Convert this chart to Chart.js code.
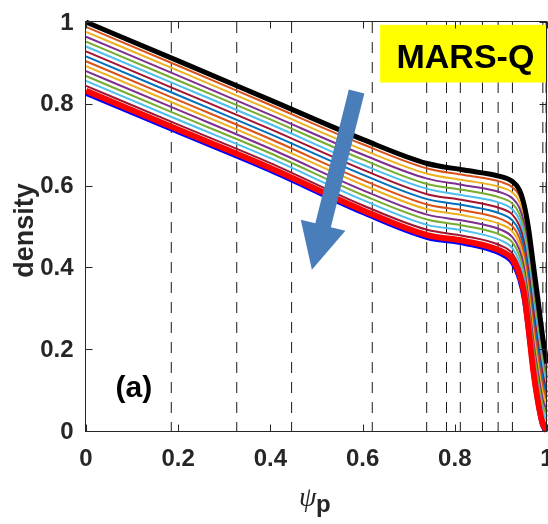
<!DOCTYPE html>
<html>
<head>
<meta charset="utf-8">
<script src="https://cdn.jsdelivr.net/npm/chart.js@4.4.1/dist/chart.umd.min.js"></script>
<style>
  html, body { margin: 0; padding: 0; background: #fff; }
  canvas { display: block; }
</style>
</head>
<body>
<canvas id="density" width="548" height="524"></canvas>
<script>
// ── data ──
const psi = [0, 0.2, 0.4, 0.6, 0.74, 0.82, 0.9, 0.925, 0.94, 0.95, 0.96, 0.97, 0.98, 0.99, 1.0];

const densityTop = [1.000, 0.905, 0.809, 0.713, 0.654, 0.638, 0.622, 0.610, 0.590, 0.555, 0.495, 0.410, 0.325, 0.235, 0.165];
const density01 = [0.988, 0.893, 0.797, 0.701, 0.642, 0.626, 0.609, 0.596, 0.575, 0.540, 0.478, 0.391, 0.307, 0.220, 0.153];
const density02 = [0.976, 0.881, 0.785, 0.688, 0.629, 0.613, 0.596, 0.583, 0.561, 0.524, 0.460, 0.373, 0.289, 0.204, 0.141];
const density03 = [0.964, 0.869, 0.773, 0.676, 0.617, 0.601, 0.583, 0.569, 0.546, 0.509, 0.443, 0.354, 0.271, 0.189, 0.130];
const density04 = [0.952, 0.857, 0.762, 0.664, 0.604, 0.589, 0.570, 0.556, 0.531, 0.494, 0.425, 0.336, 0.254, 0.174, 0.118];
const density05 = [0.940, 0.845, 0.750, 0.651, 0.592, 0.576, 0.557, 0.542, 0.517, 0.478, 0.408, 0.317, 0.236, 0.158, 0.106];
const density06 = [0.928, 0.833, 0.738, 0.639, 0.579, 0.564, 0.544, 0.529, 0.502, 0.463, 0.390, 0.299, 0.218, 0.143, 0.094];
const density07 = [0.916, 0.821, 0.726, 0.627, 0.567, 0.552, 0.531, 0.515, 0.488, 0.448, 0.373, 0.280, 0.200, 0.128, 0.083];
const density08 = [0.904, 0.809, 0.714, 0.614, 0.554, 0.539, 0.518, 0.501, 0.473, 0.432, 0.355, 0.261, 0.182, 0.112, 0.071];
const density09 = [0.892, 0.797, 0.702, 0.602, 0.542, 0.527, 0.505, 0.488, 0.458, 0.417, 0.338, 0.243, 0.164, 0.097, 0.059];
const density10 = [0.880, 0.785, 0.690, 0.589, 0.529, 0.514, 0.492, 0.474, 0.444, 0.401, 0.320, 0.224, 0.146, 0.081, 0.047];
const density11 = [0.868, 0.773, 0.679, 0.577, 0.517, 0.502, 0.479, 0.461, 0.429, 0.386, 0.303, 0.206, 0.129, 0.066, 0.035];
const density12 = [0.856, 0.761, 0.667, 0.565, 0.504, 0.490, 0.466, 0.447, 0.414, 0.371, 0.285, 0.187, 0.111, 0.051, 0.024];
const density13 = [0.844, 0.749, 0.655, 0.552, 0.492, 0.477, 0.453, 0.434, 0.400, 0.355, 0.268, 0.169, 0.093, 0.035, 0.012];
const densityRed  = [0.832, 0.737, 0.643, 0.540, 0.479, 0.465, 0.440, 0.420, 0.385, 0.340, 0.250, 0.150, 0.075, 0.020, 0.000];
const densityBlue = [0.824, 0.730, 0.636, 0.533, 0.472, 0.458, 0.432, 0.410, 0.370, 0.320, 0.235, 0.140, 0.065, 0.012, 0.000];

const midCurves = [density01, density02, density03, density04, density05, density06, density07,
                   density08, density09, density10, density11, density12, density13];
const midColors = ['#D95319', '#EDB120', '#7E2F8E', '#77AC30', '#4DBEEE', '#A2142F', '#0072BD',
                   '#D95319', '#EDB120', '#7E2F8E', '#77AC30', '#4DBEEE', '#A2142F'];

// flux surfaces marked with dashed lines
const surfaceX = [0.185, 0.327, 0.446, 0.621, 0.739, 0.782, 0.812, 0.860, 0.894, 0.925, 0.991, 0.998];

const xTicks = [0, 0.2, 0.4, 0.6, 0.8, 1];
const yTicks = [0, 0.2, 0.4, 0.6, 0.8, 1];

const FONT = "'Liberation Sans', Arial, Helvetica, sans-serif";
const AXIS = '#262626';

const toPts = arr => arr.map((v, i) => ({ x: psi[i], y: v }));
const fmt = v => (v === 0 || v === 1) ? String(v) : v.toFixed(1);

// ── datasets ──
const datasets = [];
surfaceX.forEach(sx => datasets.push({
  data: [{ x: sx, y: 1 }, { x: sx, y: 0 }],
  borderColor: '#1a1a1a', borderWidth: 1, borderDash: [11, 9],
  pointRadius: 0, order: 50
}));
datasets.push({ data: toPts(densityBlue), borderColor: '#0000FF', borderWidth: 4, order: 6 });
datasets.push({ data: toPts(densityRed), borderColor: '#FF0000', borderWidth: 6, order: 5 });
midCurves.forEach((c, i) => datasets.push({
  data: toPts(c), borderColor: midColors[i], borderWidth: 2, order: 20 - i
}));
datasets.push({ data: toPts(densityTop), borderColor: '#000000', borderWidth: 5, order: 1 });
datasets.forEach(d => {
  d.pointRadius = 0; d.fill = false; d.clip = false;
  if (!d.borderDash) d.cubicInterpolationMode = 'monotone';
});

// ── decorations: box, inward ticks, tick labels, titles, annotation ──
const deco = {
  id: 'deco',
  afterDatasetsDraw(chart) {
    const { ctx, chartArea: a, scales: { x, y } } = chart;
    ctx.save();

    // arrow
    const tail = { x: x.getPixelForValue(0.587), y: y.getPixelForValue(0.830) };
    const tip  = { x: x.getPixelForValue(0.490), y: y.getPixelForValue(0.394) };
    const dx = tip.x - tail.x, dy = tip.y - tail.y, L = Math.hypot(dx, dy);
    const ux = dx / L, uy = dy / L, nx = -uy, ny = ux;
    const H = 46, W = 23, S = 8;
    const bx = tip.x - ux * H, by = tip.y - uy * H;
    ctx.fillStyle = '#4A7EBB';
    ctx.beginPath();
    ctx.moveTo(tail.x + nx * S, tail.y + ny * S);
    ctx.lineTo(bx + nx * S, by + ny * S);
    ctx.lineTo(bx + nx * W, by + ny * W);
    ctx.lineTo(tip.x, tip.y);
    ctx.lineTo(bx - nx * W, by - ny * W);
    ctx.lineTo(bx - nx * S, by - ny * S);
    ctx.lineTo(tail.x - nx * S, tail.y - ny * S);
    ctx.closePath();
    ctx.fill();

    // yellow label box
    const bx0 = x.getPixelForValue(0.638), by0 = y.getPixelForValue(0.993);
    const by1 = y.getPixelForValue(0.852);
    ctx.fillStyle = '#FFFF00';
    ctx.fillRect(bx0, by0, chart.width - bx0, by1 - by0);
    ctx.fillStyle = '#000';
    ctx.font = "bold 34px " + FONT;
    ctx.textAlign = 'center'; ctx.textBaseline = 'alphabetic';
    ctx.fillText('MARS-Q', x.getPixelForValue(0.823), y.getPixelForValue(0.887));

    // panel tag
    ctx.font = "bold 30px " + FONT;
    ctx.textBaseline = 'middle';
    ctx.fillText('(a)', x.getPixelForValue(0.104), y.getPixelForValue(0.103));

    // box + ticks
    const L0 = Math.round(a.left) - 0.5, R0 = Math.round(a.right) - 0.5;
    const T0 = Math.round(a.top) - 0.5, B0 = Math.round(a.bottom) + 0.5;
    ctx.strokeStyle = AXIS; ctx.lineWidth = 1; ctx.setLineDash([]);
    ctx.strokeRect(L0, T0, R0 - L0, B0 - T0);
    ctx.beginPath();
    xTicks.forEach(v => {
      const px = Math.round(x.getPixelForValue(v)) + 0.5;
      ctx.moveTo(px, B0); ctx.lineTo(px, B0 - 7);
      ctx.moveTo(px, T0); ctx.lineTo(px, T0 + 7);
    });
    yTicks.forEach(v => {
      const py = Math.round(y.getPixelForValue(v)) + 0.5;
      ctx.moveTo(L0, py); ctx.lineTo(L0 + 7, py);
      ctx.moveTo(R0, py); ctx.lineTo(R0 - 7, py);
    });
    ctx.stroke();

    // tick labels
    ctx.fillStyle = AXIS;
    ctx.font = "bold 24px " + FONT;
    ctx.textBaseline = 'middle';
    ctx.textAlign = 'center';
    xTicks.forEach(v => ctx.fillText(fmt(v), x.getPixelForValue(v), B0 + 28));
    ctx.textAlign = 'right';
    yTicks.forEach(v => ctx.fillText(fmt(v), L0 - 12, y.getPixelForValue(v) + 1));

    // y title
    ctx.save();
    ctx.translate(33, (a.top + a.bottom) / 2 + 4);
    ctx.rotate(-Math.PI / 2);
    ctx.font = "bold 27px " + FONT;
    ctx.textAlign = 'center'; ctx.textBaseline = 'alphabetic';
    ctx.fillText('density', 0, 0);
    ctx.restore();

    // x title: psi_p
    ctx.textAlign = 'left'; ctx.textBaseline = 'alphabetic';
    ctx.font = "italic 28px 'Liberation Serif', 'Times New Roman', serif";
    ctx.fillText('ψ', 299, 506);
    ctx.font = "bold 24px " + FONT;
    ctx.fillText('p', 316, 512);

    ctx.restore();
  }
};

new Chart(document.getElementById('density'), {
  type: 'line',
  data: { datasets },
  options: {
    responsive: false, animation: false,
    layout: { padding: { top: 22, right: 1, left: 0, bottom: 0 } },
    plugins: { legend: { display: false }, tooltip: { enabled: false } },
    scales: {
      x: {
        type: 'linear', min: 0, max: 1,
        afterBuildTicks: s => { s.ticks = xTicks.map(v => ({ value: v })); },
        afterFit: s => { s.height = 93; s.paddingLeft = 0; s.paddingRight = 0; },
        grid: { display: false, drawTicks: false }, border: { display: false },
        ticks: { display: false }
      },
      y: {
        min: 0, max: 1,
        afterBuildTicks: s => { s.ticks = yTicks.map(v => ({ value: v })); },
        afterFit: s => { s.width = 86; s.paddingTop = 0; s.paddingBottom = 0; },
        grid: { display: false, drawTicks: false }, border: { display: false },
        ticks: { display: false }
      }
    }
  },
  plugins: [deco]
});
</script>
</body>
</html>
